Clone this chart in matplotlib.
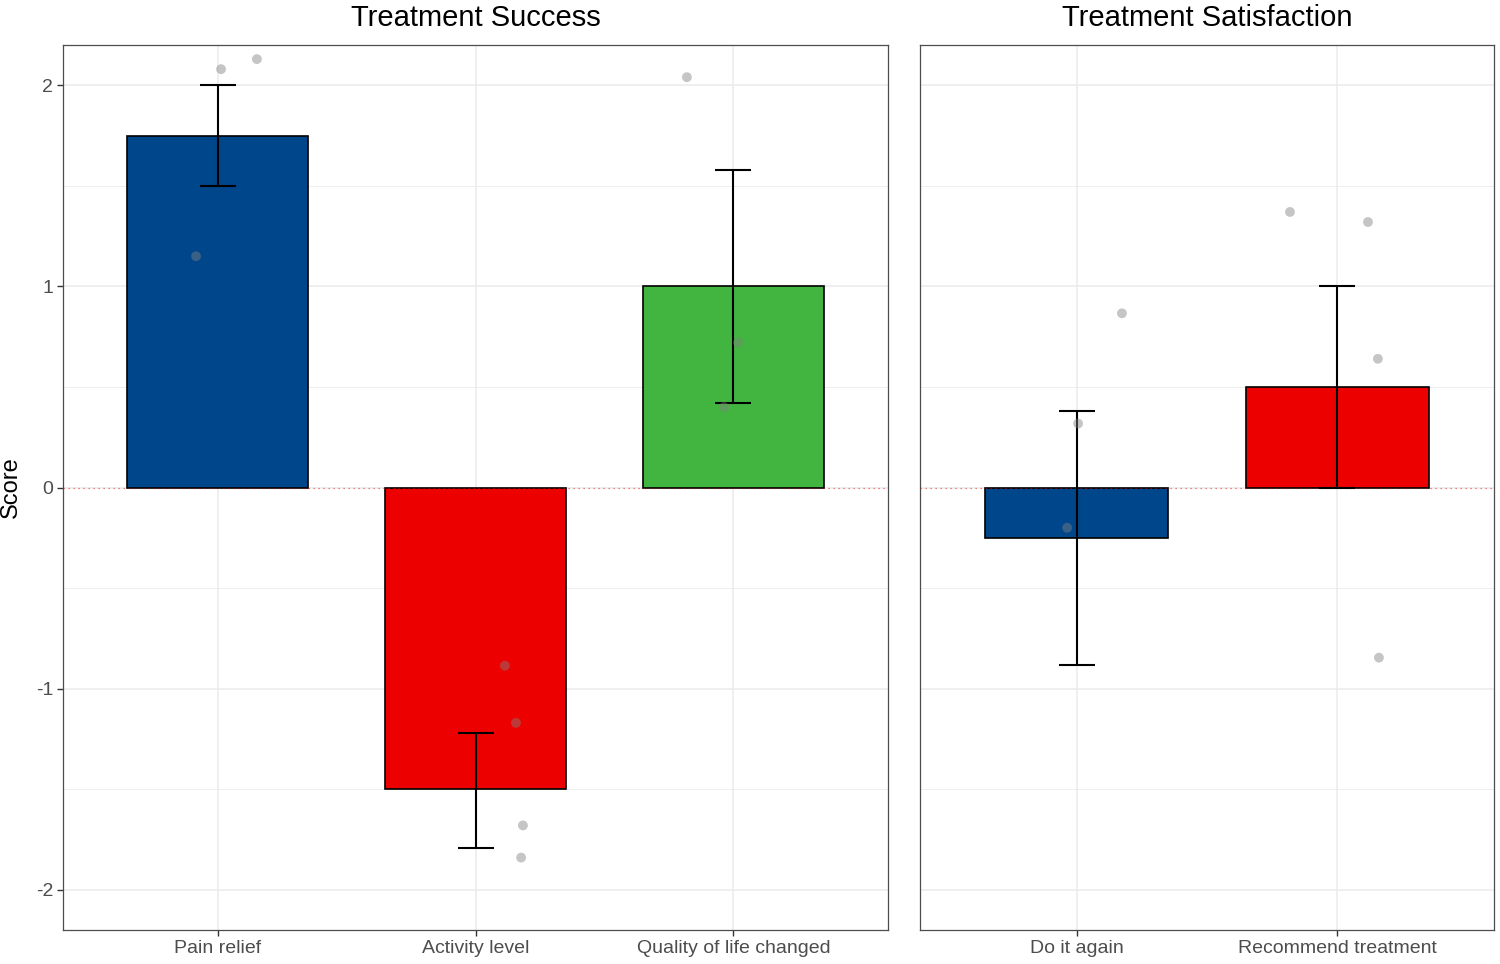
import matplotlib
matplotlib.use("Agg")
import matplotlib.pyplot as plt
import numpy as np

plt.rcParams['font.family'] = ['Liberation Sans', 'DejaVu Sans']

# ---- data ----
left_title = "Treatment Success"
right_title = "Treatment Satisfaction"
left_cats = ["Pain relief", "Activity level", "Quality of life changed"]
left_means = [1.75, -1.5, 1.0]
left_lo = [1.5, -1.79, 0.42]
left_hi = [2.0, -1.22, 1.58]
left_colors = ["#00468B", "#ED0000", "#42B540"]

right_cats = ["Do it again", "Recommend treatment"]
right_means = [-0.25, 0.5]
right_lo = [-0.88, 0.0]
right_hi = [0.38, 1.0]
right_colors = ["#00468B", "#ED0000"]

# jittered raw points (x in category units, y score)
left_pts_x = [1.013, 1.152, 0.916, 2.114, 2.157, 2.184, 2.177, 2.820, 3.018, 2.964]
left_pts_y = [2.08, 2.13, 1.15, -0.886, -1.17, -1.68, -1.84, 2.04, 0.72, 0.40]
right_pts_x = [1.174, 1.006, 0.964, 1.818, 2.117, 2.155, 2.159]
right_pts_y = [0.866, 0.318, -0.20, 1.37, 1.32, 0.64, -0.846]

y_ticks = [-2, -1, 0, 1, 2]
y_minor = [-1.5, -0.5, 0.5, 1.5]

fig = plt.figure(figsize=(15, 9.64), dpi=100)
ax1 = fig.add_axes([63/1500, 1-930/964, 825/1500, 885/964])
ax2 = fig.add_axes([920/1500, 1-930/964, 574/1500, 885/964])

def draw(ax, cats, means, lo, hi, colors, px, py, title, show_y):
    n = len(cats)
    xs = np.arange(1, n+1)
    ax.set_xlim(0.4, n+0.6)
    ax.set_ylim(-2.2, 2.2)
    for y in y_ticks:
        ax.axhline(y, color="#EBEBEB", lw=1.1, zorder=0)
    for y in y_minor:
        ax.axhline(y, color="#EBEBEB", lw=0.6, zorder=0)
    for x in xs:
        ax.axvline(x, color="#EBEBEB", lw=1.1, zorder=0)
    ax.bar(xs, means, width=0.7, color=colors, edgecolor="black", linewidth=1.2, zorder=2)
    ax.axhline(0, color="#ED0000", lw=0.9, ls=(0, (1, 3)), alpha=0.6, zorder=3)
    means = np.array(means)
    ax.errorbar(xs, means, yerr=[means-np.array(lo), np.array(hi)-means], fmt="none",
                ecolor="black", elinewidth=1.5, capsize=13, capthick=1.5, zorder=4)
    ax.scatter(px, py, s=50, color="gray", alpha=0.45, edgecolors="none", zorder=5)
    ax.set_xticks(xs)
    ax.set_xticklabels(cats, fontsize=14, color="#4D4D4D")
    ax.set_yticks(y_ticks)
    if show_y:
        ax.set_yticklabels([str(v) for v in y_ticks], fontsize=14, color="#4D4D4D")
        ax.set_ylabel("Score", fontsize=17, labelpad=10)
    else:
        ax.tick_params(axis="y", left=False, labelleft=False)
    ax.tick_params(axis="both", length=4, width=1, color="#333333", pad=3)
    for s in ax.spines.values():
        s.set_color("#4D4D4D")
        s.set_linewidth(0.9)
    ax.set_title(title, fontsize=21, pad=14)

draw(ax1, left_cats, left_means, left_lo, left_hi, left_colors, left_pts_x, left_pts_y, left_title, True)
draw(ax2, right_cats, right_means, right_lo, right_hi, right_colors, right_pts_x, right_pts_y, right_title, False)

fig.savefig("out.png", dpi=100)
